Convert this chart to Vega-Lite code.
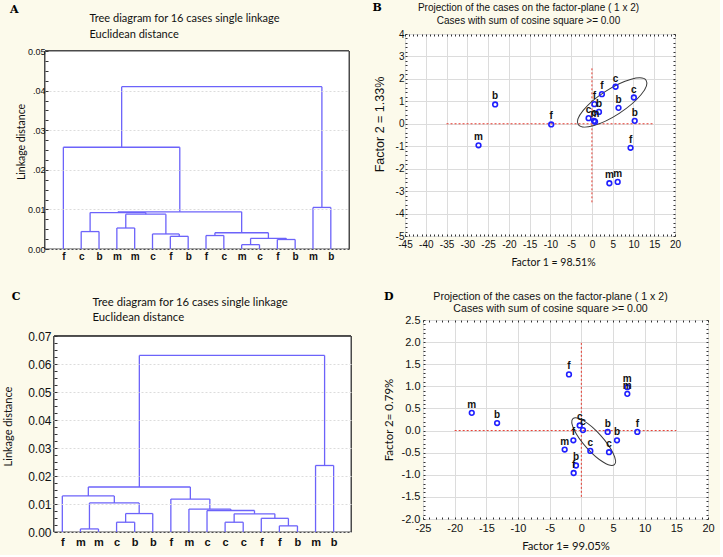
{
 "$schema": "https://vega.github.io/schema/vega-lite/v6.json",
 "background": "#fcfaeb",
 "padding": {"left": 2, "top": 1, "right": 5, "bottom": 3},
 "spacing": 22,
 "config": {
  "view": {"stroke": "#4a4a4a", "strokeWidth": 1, "fill": "#ffffff"},
  "axis": {"labelFont": "Liberation Sans", "labelFontSize": 10, "labelColor": "#111111", "titleColor": "#111111", "titleFontWeight": "normal", "domain": false, "tickColor": "#333333", "gridColor": "#dcdcdc", "labelOverlap": false, "labelFlush": false, "labelBound": false},
  "title": {"color": "#000000"}
 },
 "datasets": {
  "dendA": [
   {"x":2,"x2":3,"y":0.0044,"y2":0.0044},{"x":2,"x2":2,"y":0,"y2":0.0044},{"x":3,"x2":3,"y":0,"y2":0.0044},
   {"x":4,"x2":5,"y":0.0053,"y2":0.0053},{"x":4,"x2":4,"y":0,"y2":0.0053},{"x":5,"x2":5,"y":0,"y2":0.0053},
   {"x":7,"x2":8,"y":0.0032,"y2":0.0032},{"x":7,"x2":7,"y":0,"y2":0.0032},{"x":8,"x2":8,"y":0,"y2":0.0032},
   {"x":6,"x2":7.5,"y":0.0038,"y2":0.0038},{"x":6,"x2":6,"y":0,"y2":0.0038},{"x":7.5,"x2":7.5,"y":0.0032,"y2":0.0038},
   {"x":4.5,"x2":6.75,"y":0.0088,"y2":0.0088},{"x":4.5,"x2":4.5,"y":0.0053,"y2":0.0088},{"x":6.75,"x2":6.75,"y":0.0038,"y2":0.0088},
   {"x":2.5,"x2":5.625,"y":0.0092,"y2":0.0092},{"x":2.5,"x2":2.5,"y":0.0044,"y2":0.0092},{"x":5.625,"x2":5.625,"y":0.0088,"y2":0.0092},
   {"x":9,"x2":10,"y":0.0034,"y2":0.0034},{"x":9,"x2":9,"y":0,"y2":0.0034},{"x":10,"x2":10,"y":0,"y2":0.0034},
   {"x":11,"x2":12,"y":0.0011,"y2":0.0011},{"x":11,"x2":11,"y":0,"y2":0.0011},{"x":12,"x2":12,"y":0,"y2":0.0011},
   {"x":13,"x2":14,"y":0.0024,"y2":0.0024},{"x":13,"x2":13,"y":0,"y2":0.0024},{"x":14,"x2":14,"y":0,"y2":0.0024},
   {"x":11.5,"x2":13.5,"y":0.0027,"y2":0.0027},{"x":11.5,"x2":11.5,"y":0.0011,"y2":0.0027},{"x":13.5,"x2":13.5,"y":0.0024,"y2":0.0027},
   {"x":9.5,"x2":12.5,"y":0.0041,"y2":0.0041},{"x":9.5,"x2":9.5,"y":0.0034,"y2":0.0041},{"x":12.5,"x2":12.5,"y":0.0027,"y2":0.0041},
   {"x":4.0625,"x2":11,"y":0.0094,"y2":0.0094},{"x":4.0625,"x2":4.0625,"y":0.0092,"y2":0.0094},{"x":11,"x2":11,"y":0.0041,"y2":0.0094},
   {"x":1,"x2":7.53,"y":0.0257,"y2":0.0257},{"x":1,"x2":1,"y":0,"y2":0.0257},{"x":7.53,"x2":7.53,"y":0.0094,"y2":0.0257},
   {"x":15,"x2":16,"y":0.0105,"y2":0.0105},{"x":15,"x2":15,"y":0,"y2":0.0105},{"x":16,"x2":16,"y":0,"y2":0.0105},
   {"x":4.27,"x2":15.5,"y":0.041,"y2":0.041},{"x":4.27,"x2":4.27,"y":0.0257,"y2":0.041},{"x":15.5,"x2":15.5,"y":0.0105,"y2":0.041}
  ],
  "dendC": [
   {"x":2,"x2":3,"y":0.0011,"y2":0.0011},{"x":2,"x2":2,"y":0,"y2":0.0011},{"x":3,"x2":3,"y":0,"y2":0.0011},
   {"x":4,"x2":5,"y":0.0035,"y2":0.0035},{"x":4,"x2":4,"y":0,"y2":0.0035},{"x":5,"x2":5,"y":0,"y2":0.0035},
   {"x":4.5,"x2":6,"y":0.0066,"y2":0.0066},{"x":4.5,"x2":4.5,"y":0.0035,"y2":0.0066},{"x":6,"x2":6,"y":0,"y2":0.0066},
   {"x":2.5,"x2":5.25,"y":0.0104,"y2":0.0104},{"x":2.5,"x2":2.5,"y":0.0011,"y2":0.0104},{"x":5.25,"x2":5.25,"y":0.0066,"y2":0.0104},
   {"x":1,"x2":3.875,"y":0.0129,"y2":0.0129},{"x":1,"x2":1,"y":0,"y2":0.0129},{"x":3.875,"x2":3.875,"y":0.0104,"y2":0.0129},
   {"x":13,"x2":14,"y":0.0022,"y2":0.0022},{"x":13,"x2":13,"y":0,"y2":0.0022},{"x":14,"x2":14,"y":0,"y2":0.0022},
   {"x":12,"x2":13.5,"y":0.0049,"y2":0.0049},{"x":12,"x2":12,"y":0,"y2":0.0049},{"x":13.5,"x2":13.5,"y":0.0022,"y2":0.0049},
   {"x":10,"x2":11,"y":0.0035,"y2":0.0035},{"x":10,"x2":10,"y":0,"y2":0.0035},{"x":11,"x2":11,"y":0,"y2":0.0035},
   {"x":10.5,"x2":12.75,"y":0.0065,"y2":0.0065},{"x":10.5,"x2":10.5,"y":0.0035,"y2":0.0065},{"x":12.75,"x2":12.75,"y":0.0049,"y2":0.0065},
   {"x":9,"x2":11.625,"y":0.0077,"y2":0.0077},{"x":9,"x2":9,"y":0,"y2":0.0077},{"x":11.625,"x2":11.625,"y":0.0065,"y2":0.0077},
   {"x":8,"x2":10.3125,"y":0.0082,"y2":0.0082},{"x":8,"x2":8,"y":0,"y2":0.0082},{"x":10.3125,"x2":10.3125,"y":0.0077,"y2":0.0082},
   {"x":7,"x2":9.156,"y":0.0118,"y2":0.0118},{"x":7,"x2":7,"y":0,"y2":0.0118},{"x":9.156,"x2":9.156,"y":0.0082,"y2":0.0118},
   {"x":2.4375,"x2":8.078,"y":0.0161,"y2":0.0161},{"x":2.4375,"x2":2.4375,"y":0.0129,"y2":0.0161},{"x":8.078,"x2":8.078,"y":0.0118,"y2":0.0161},
   {"x":15,"x2":16,"y":0.0238,"y2":0.0238},{"x":15,"x2":15,"y":0,"y2":0.0238},{"x":16,"x2":16,"y":0,"y2":0.0238},
   {"x":5.258,"x2":15.5,"y":0.0632,"y2":0.0632},{"x":5.258,"x2":5.258,"y":0.0161,"y2":0.0632},{"x":15.5,"x2":15.5,"y":0.0238,"y2":0.0632}
  ],
  "ptsB": [
   {"x":-23.3,"y":0.86,"lab":"b"},{"x":-27.3,"y":-0.96,"lab":"m"},{"x":-9.8,"y":-0.03,"lab":"f"},{"x":9.3,"y":-1.07,"lab":"f"},
   {"x":4.2,"y":-2.65,"lab":"m"},{"x":6.2,"y":-2.59,"lab":"m"},{"x":10.3,"y":0.13,"lab":"b"},{"x":10.1,"y":1.17,"lab":"c"},
   {"x":6.4,"y":0.71,"lab":"b"},{"x":5.7,"y":1.65,"lab":"c"},{"x":2.4,"y":1.32,"lab":"f"},{"x":0.6,"y":0.875,"lab":"f"},
   {"x":1.7,"y":0.53,"lab":"b"},{"x":-0.8,"y":0.25,"lab":"c"},{"x":0.75,"y":0.09,"lab":"m"},{"x":0.5,"y":0.13,"lab":"c"}
  ],
  "ptsD": [
   {"x":-17.3,"y":0.4,"lab":"m"},{"x":-13.3,"y":0.17,"lab":"b"},{"x":-1.95,"y":1.27,"lab":"f"},{"x":7.26,"y":0.98,"lab":"m"},
   {"x":7.26,"y":0.83,"lab":"m"},{"x":-0.26,"y":0.115,"lab":"c"},{"x":0.26,"y":0.01,"lab":"c"},{"x":4.16,"y":-0.03,"lab":"b"},
   {"x":8.84,"y":-0.03,"lab":"f"},{"x":5.63,"y":-0.22,"lab":"b"},{"x":-1.26,"y":-0.22,"lab":"f"},{"x":-2.63,"y":-0.43,"lab":"m"},
   {"x":1.42,"y":-0.46,"lab":"c"},{"x":4.37,"y":-0.49,"lab":"c"},{"x":-0.84,"y":-0.79,"lab":"b"},{"x":-1.21,"y":-0.96,"lab":"f"}
  ],
  "refB": [{"x":-35,"x2":15,"y":0,"y2":0},{"x":0,"x2":0,"y":-3.5,"y2":2.5}],
  "refD": [{"x":-20,"x2":15,"y":0,"y2":0},{"x":0,"x2":0,"y":-1.5,"y2":2}],
  "ellB": [{"x":4.88,"y":0.95}],
  "ellD": [{"x":1.95,"y":-0.25}]
 },
 "vconcat": [
  {
   "spacing": 22,
   "hconcat": [
    {
     "width": 304, "height": 215,
     "view": {"stroke": null, "fill": null},
     "title": {"text": "A", "anchor": "start", "frame": "bounds", "font": "DejaVu Serif", "fontSize": 11, "fontWeight": "bold", "offset": -3, "dx": -7},
     "data": {"name": "dendA"},
     "layer": [
      {
       "mark": {"type": "rect", "fill": "#ffffff", "stroke": "#4a4a4a", "strokeWidth": 1},
       "encoding": {
        "x": {"datum": -0.03, "type": "quantitative", "scale": {"domain": [-0.03, 17.02], "nice": false, "zero": false}, "axis": null},
        "x2": {"datum": 17.02},
        "y": {"datum": 0, "type": "quantitative", "scale": {"domain": [0, 0.054293], "nice": false, "zero": false}, "axis": null},
        "y2": {"datum": 0.05}
       }
      },
      {
       "mark": {"type": "rule", "color": "#6c63fa", "strokeWidth": 1.3},
       "encoding": {
        "x": {"field": "x", "type": "quantitative", "scale": {"domain": [-0.03, 17.02], "nice": false, "zero": false},
         "axis": {"orient": "bottom", "values": [1,2,3,4,5,6,7,8,9,10,11,12,13,14,15,16], "labelExpr": "['','f','c','b','m','m','c','f','b','f','c','m','c','f','b','m','b'][datum.value]", "ticks": false, "grid": false, "title": null, "labelFontWeight": "bold", "labelFontSize": 10, "labelPadding": 2}},
        "x2": {"field": "x2"},
        "y": {"field": "y", "type": "quantitative", "scale": {"domain": [0, 0.054293], "nice": false, "zero": false},
         "axis": {"orient": "left", "zindex": 1, "values": [0,0.0025,0.005,0.0075,0.01,0.0125,0.015,0.0175,0.02,0.0225,0.025,0.0275,0.03,0.0325,0.035,0.0375,0.04,0.0425,0.045,0.0475,0.05],
          "labelExpr": "abs(datum.value*100-round(datum.value*100))<0.01 ? ['0.00','0.01','.02','.03','.04','0.05'][round(datum.value*100)] : ''",
          "tickSize": -3, "labelPadding": 3, "labelFontSize": 9, "grid": true, "gridDash": [2, 2],
          "gridOpacity": {"condition": {"test": "abs(datum.value*100-round(datum.value*100))<0.01 && datum.value < 0.049", "value": 1}, "value": 0},
          "title": "Linkage distance", "titleFont": "Lato", "titleFontSize": 10.5, "titlePadding": 0.5}},
        "y2": {"field": "y2"}
       }
      },
      {
       "mark": {"type": "point", "opacity": 0},
       "encoding": {
        "x": {"field": "x", "type": "quantitative",
         "axis": {"orient": "top", "values": [1], "labels": false, "ticks": false, "grid": false,
          "title": ["Tree diagram for 16 cases single linkage", "Euclidean distance"], "titleFont": "Lato", "titleFontSize": 11, "titleAlign": "left", "titleAnchor": "start", "titleX": 44, "titleY": -22, "titleBaseline": "top", "titleLineHeight": 16.5, "titleAngle": 0}},
        "y": {"field": "y", "type": "quantitative",
         "axis": {"orient": "right", "values": [0,0.0025,0.005,0.0075,0.01,0.0125,0.015,0.0175,0.02,0.0225,0.025,0.0275,0.03,0.0325,0.035,0.0375,0.04,0.0425,0.045,0.0475,0.05], "labels": false, "tickSize": -3, "grid": false, "title": null}}
       }
      }
     ],
     "resolve": {"axis": {"x": "independent", "y": "independent"}}
    },
    {
     "width": 270, "height": 202,
     "title": {"text": "B", "anchor": "start", "frame": "bounds", "font": "DejaVu Serif", "fontSize": 11, "fontWeight": "bold", "offset": -11, "dx": -1},
     "layer": [
      {
       "data": {"name": "refB"},
       "mark": {"type": "rule", "color": "#e53a2f", "strokeDash": [2, 2], "strokeWidth": 1},
       "encoding": {
        "x": {"field": "x", "type": "quantitative", "scale": {"domain": [-45, 20], "nice": false, "zero": false},
         "axis": {"orient": "bottom", "values": [-45,-44,-43,-42,-41,-40,-39,-38,-37,-36,-35,-34,-33,-32,-31,-30,-29,-28,-27,-26,-25,-24,-23,-22,-21,-20,-19,-18,-17,-16,-15,-14,-13,-12,-11,-10,-9,-8,-7,-6,-5,-4,-3,-2,-1,0,1,2,3,4,5,6,7,8,9,10,11,12,13,14,15,16,17,18,19,20],
          "labelExpr": "datum.value % 5 == 0 ? '' + datum.value : ''", "tickSize": -2, "labelPadding": 5, "grid": true,
          "gridOpacity": {"condition": {"test": "datum.value % 5 == 0", "value": 1}, "value": 0},
          "title": "Factor 1 = 98.51%", "titleFont": "Lato", "titleFontSize": 10.5, "titlePadding": 8, "titleX": 148}},
        "x2": {"field": "x2"},
        "y": {"field": "y", "type": "quantitative", "scale": {"domain": [-5, 4], "nice": false, "zero": false},
         "axis": {"orient": "left", "values": [-5,-4.8,-4.6,-4.4,-4.2,-4,-3.8,-3.6,-3.4,-3.2,-3,-2.8,-2.6,-2.4,-2.2,-2,-1.8,-1.6,-1.4,-1.2,-1,-0.8,-0.6,-0.4,-0.2,0,0.2,0.4,0.6,0.8,1,1.2,1.4,1.6,1.8,2,2.2,2.4,2.6,2.8,3,3.2,3.4,3.6,3.8,4],
          "labelExpr": "abs(datum.value-round(datum.value))<0.01 ? '' + round(datum.value) : ''", "tickSize": -2, "labelPadding": 3, "grid": true,
          "gridOpacity": {"condition": {"test": "abs(datum.value-round(datum.value))<0.01", "value": 1}, "value": 0},
          "title": "Factor 2 = 1.33%", "titleFont": "Liberation Sans", "titleFontSize": 12.5, "titlePadding": 8.5, "titleY": 90}},
        "y2": {"field": "y2"}
       }
      },
      {
       "data": {"name": "ellB"},
       "mark": {"type": "point", "shape": "M-1,0A1,0.32,0,1,1,1,0A1,0.32,0,1,1,-1,0Z", "filled": false, "stroke": "#3a3a3a", "strokeWidth": 1, "size": 6561, "angle": 327, "opacity": 1},
       "encoding": {"x": {"field": "x", "type": "quantitative", "axis": null}, "y": {"field": "y", "type": "quantitative", "axis": null}}
      },
      {
       "data": {"name": "ptsB"},
       "mark": {"type": "point", "shape": "circle", "filled": false, "stroke": "#1f1fff", "strokeWidth": 1.6, "size": 22, "opacity": 1},
       "encoding": {"x": {"field": "x", "type": "quantitative", "axis": null}, "y": {"field": "y", "type": "quantitative", "axis": null}}
      },
      {
       "data": {"name": "ptsB"},
       "mark": {"type": "text", "dy": -8, "font": "Liberation Sans", "fontSize": 10, "fontWeight": "bold", "color": "#111111"},
       "encoding": {"x": {"field": "x", "type": "quantitative", "axis": null}, "y": {"field": "y", "type": "quantitative", "axis": null}, "text": {"field": "lab"}}
      },
      {
       "data": {"name": "ptsB"},
       "mark": {"type": "point", "opacity": 0},
       "encoding": {
        "x": {"field": "x", "type": "quantitative",
         "axis": {"orient": "top", "values": [-45,-44,-43,-42,-41,-40,-39,-38,-37,-36,-35,-34,-33,-32,-31,-30,-29,-28,-27,-26,-25,-24,-23,-22,-21,-20,-19,-18,-17,-16,-15,-14,-13,-12,-11,-10,-9,-8,-7,-6,-5,-4,-3,-2,-1,0,1,2,3,4,5,6,7,8,9,10,11,12,13,14,15,16,17,18,19,20], "labels": false, "tickSize": -2, "grid": false,
          "title": ["Projection of the cases on the factor-plane ( 1 x  2)", "Cases with sum of cosine square >=  0.00"], "titleFont": "Liberation Sans", "titleFontSize": 10, "titleAlign": "center", "titleAnchor": "middle", "titleX": 123, "titleY": -32, "titleBaseline": "top", "titleLineHeight": 13.4, "titleAngle": 0}},
        "y": {"field": "y", "type": "quantitative",
         "axis": {"orient": "right", "values": [-5,-4.8,-4.6,-4.4,-4.2,-4,-3.8,-3.6,-3.4,-3.2,-3,-2.8,-2.6,-2.4,-2.2,-2,-1.8,-1.6,-1.4,-1.2,-1,-0.8,-0.6,-0.4,-0.2,0,0.2,0.4,0.6,0.8,1,1.2,1.4,1.6,1.8,2,2.2,2.4,2.6,2.8,3,3.2,3.4,3.6,3.8,4], "labels": false, "tickSize": -2, "grid": false, "title": null}}
       }
      }
     ],
     "resolve": {"axis": {"x": "independent", "y": "independent"}}
    }
   ]
  },
  {
   "spacing": 30,
   "hconcat": [
    {
     "width": 306, "height": 212,
     "view": {"stroke": null, "fill": null},
     "title": {"text": "C", "anchor": "start", "frame": "bounds", "font": "DejaVu Serif", "fontSize": 11, "fontWeight": "bold", "offset": -5.5, "dx": 9},
     "data": {"name": "dendC"},
     "layer": [
      {
       "mark": {"type": "rect", "fill": "#ffffff", "stroke": "#4a4a4a", "strokeWidth": 1},
       "encoding": {
        "x": {"datum": 0.54, "type": "quantitative", "scale": {"domain": [0.0424, 16.96], "nice": false, "zero": false}, "axis": null},
        "x2": {"datum": 16.96},
        "y": {"datum": 0, "type": "quantitative", "scale": {"domain": [0, 0.075869], "nice": false, "zero": false}, "axis": null},
        "y2": {"datum": 0.07}
       }
      },
      {
       "mark": {"type": "rule", "color": "#6c63fa", "strokeWidth": 1.3},
       "encoding": {
        "x": {"field": "x", "type": "quantitative", "scale": {"domain": [0.0424, 16.96], "nice": false, "zero": false},
         "axis": {"orient": "bottom", "values": [1,2,3,4,5,6,7,8,9,10,11,12,13,14,15,16], "labelExpr": "['','f','m','m','c','b','b','f','m','c','c','c','f','f','b','m','b'][datum.value]", "ticks": false, "grid": false, "title": null, "labelFontWeight": "bold", "labelFontSize": 11, "labelPadding": 4}},
        "x2": {"field": "x2"},
        "y": {"field": "y", "type": "quantitative", "scale": {"domain": [0, 0.075869], "nice": false, "zero": false},
         "axis": {"orient": "left", "zindex": 1, "offset": -9, "values": [0,0.0025,0.005,0.0075,0.01,0.0125,0.015,0.0175,0.02,0.0225,0.025,0.0275,0.03,0.0325,0.035,0.0375,0.04,0.0425,0.045,0.0475,0.05,0.0525,0.055,0.0575,0.06,0.0625,0.065,0.0675,0.07],
          "labelExpr": "abs(datum.value*100-round(datum.value*100))<0.01 ? format(datum.value, '.2f') : ''",
          "tickSize": -3, "labelPadding": 6, "labelFontSize": 12, "grid": true, "gridDash": [2, 2],
          "gridOpacity": {"condition": {"test": "abs(datum.value*100-round(datum.value*100))<0.01 && datum.value < 0.069", "value": 1}, "value": 0},
          "title": "Linkage distance", "titleFont": "Lato", "titleFontSize": 11, "titlePadding": 14}},
        "y2": {"field": "y2"}
       }
      },
      {
       "mark": {"type": "point", "opacity": 0},
       "encoding": {
        "x": {"field": "x", "type": "quantitative",
         "axis": {"orient": "top", "values": [1], "labels": false, "ticks": false, "grid": false,
          "title": ["Tree diagram for 16 cases single linkage", "Euclidean distance"], "titleFont": "Lato", "titleFontSize": 11.3, "titleAlign": "left", "titleAnchor": "start", "titleX": 47, "titleY": -24, "titleBaseline": "top", "titleLineHeight": 15.7, "titleAngle": 0}},
        "y": {"field": "y", "type": "quantitative",
         "axis": {"orient": "right", "values": [0,0.0025,0.005,0.0075,0.01,0.0125,0.015,0.0175,0.02,0.0225,0.025,0.0275,0.03,0.0325,0.035,0.0375,0.04,0.0425,0.045,0.0475,0.05,0.0525,0.055,0.0575,0.06,0.0625,0.065,0.0675,0.07], "labels": false, "tickSize": -3, "grid": false, "title": null}}
       }
      }
     ],
     "resolve": {"axis": {"x": "independent", "y": "independent"}}
    },
    {
     "width": 285, "height": 199,
     "title": {"text": "D", "anchor": "start", "frame": "bounds", "font": "DejaVu Serif", "fontSize": 11, "fontWeight": "bold", "offset": -11, "dx": 1},
     "layer": [
      {
       "data": {"name": "refD"},
       "mark": {"type": "rule", "color": "#e53a2f", "strokeDash": [2, 2], "strokeWidth": 1},
       "encoding": {
        "x": {"field": "x", "type": "quantitative", "scale": {"domain": [-25, 20], "nice": false, "zero": false},
         "axis": {"orient": "bottom", "values": [-25,-24,-23,-22,-21,-20,-19,-18,-17,-16,-15,-14,-13,-12,-11,-10,-9,-8,-7,-6,-5,-4,-3,-2,-1,0,1,2,3,4,5,6,7,8,9,10,11,12,13,14,15,16,17,18,19,20],
          "labelExpr": "datum.value % 5 == 0 ? '' + datum.value : ''", "tickSize": -2, "labelPadding": 5, "labelFontSize": 11, "grid": true,
          "gridOpacity": {"condition": {"test": "datum.value % 5 == 0", "value": 1}, "value": 0},
          "title": "Factor 1= 99.05%", "titleFont": "Lato", "titleFontSize": 11.3, "titlePadding": 7}},
        "x2": {"field": "x2"},
        "y": {"field": "y", "type": "quantitative", "scale": {"domain": [-2, 2.5], "nice": false, "zero": false},
         "axis": {"orient": "left", "values": [-2,-1.9,-1.8,-1.7,-1.6,-1.5,-1.4,-1.3,-1.2,-1.1,-1,-0.9,-0.8,-0.7,-0.6,-0.5,-0.4,-0.3,-0.2,-0.1,0,0.1,0.2,0.3,0.4,0.5,0.6,0.7,0.8,0.9,1,1.1,1.2,1.3,1.4,1.5,1.6,1.7,1.8,1.9,2,2.1,2.2,2.3,2.4,2.5],
          "labelExpr": "abs(datum.value*2-round(datum.value*2))<0.01 ? replace(format(datum.value, '.1f'), '\u2212', '-') : ''", "tickSize": -2, "labelPadding": 5, "labelFontSize": 11, "grid": true,
          "gridOpacity": {"condition": {"test": "abs(datum.value*2-round(datum.value*2))<0.01", "value": 1}, "value": 0},
          "title": "Factor 2= 0.79%", "titleFont": "Lato", "titleFontSize": 11.5, "titlePadding": 7}},
        "y2": {"field": "y2"}
       }
      },
      {
       "data": {"name": "ellD"},
       "mark": {"type": "point", "shape": "M-1,0A1,0.3,0,1,1,1,0A1,0.3,0,1,1,-1,0Z", "filled": false, "stroke": "#3a3a3a", "strokeWidth": 1, "size": 3844, "angle": 48, "opacity": 1},
       "encoding": {"x": {"field": "x", "type": "quantitative", "axis": null}, "y": {"field": "y", "type": "quantitative", "axis": null}}
      },
      {
       "data": {"name": "ptsD"},
       "mark": {"type": "point", "shape": "circle", "filled": false, "stroke": "#1f1fff", "strokeWidth": 1.6, "size": 22, "opacity": 1},
       "encoding": {"x": {"field": "x", "type": "quantitative", "axis": null}, "y": {"field": "y", "type": "quantitative", "axis": null}}
      },
      {
       "data": {"name": "ptsD"},
       "mark": {"type": "text", "dy": -8, "font": "Liberation Sans", "fontSize": 10, "fontWeight": "bold", "color": "#111111"},
       "encoding": {"x": {"field": "x", "type": "quantitative", "axis": null}, "y": {"field": "y", "type": "quantitative", "axis": null}, "text": {"field": "lab"}}
      },
      {
       "data": {"name": "ptsD"},
       "mark": {"type": "point", "opacity": 0},
       "encoding": {
        "x": {"field": "x", "type": "quantitative",
         "axis": {"orient": "top", "values": [-25,-24,-23,-22,-21,-20,-19,-18,-17,-16,-15,-14,-13,-12,-11,-10,-9,-8,-7,-6,-5,-4,-3,-2,-1,0,1,2,3,4,5,6,7,8,9,10,11,12,13,14,15,16,17,18,19,20], "labels": false, "tickSize": -2, "grid": false,
          "title": ["Projection of the cases on the factor-plane ( 1 x  2)", "Cases with sum of cosine square >=  0.00"], "titleFont": "Liberation Sans", "titleFontSize": 10.6, "titleAlign": "center", "titleAnchor": "middle", "titleX": 127, "titleY": -29, "titleBaseline": "top", "titleLineHeight": 12.7, "titleAngle": 0}},
        "y": {"field": "y", "type": "quantitative",
         "axis": {"orient": "right", "values": [-2,-1.9,-1.8,-1.7,-1.6,-1.5,-1.4,-1.3,-1.2,-1.1,-1,-0.9,-0.8,-0.7,-0.6,-0.5,-0.4,-0.3,-0.2,-0.1,0,0.1,0.2,0.3,0.4,0.5,0.6,0.7,0.8,0.9,1,1.1,1.2,1.3,1.4,1.5,1.6,1.7,1.8,1.9,2,2.1,2.2,2.3,2.4,2.5], "labels": false, "tickSize": -2, "grid": false, "title": null}}
       }
      }
     ],
     "resolve": {"axis": {"x": "independent", "y": "independent"}}
    }
   ]
  }
 ]
}
